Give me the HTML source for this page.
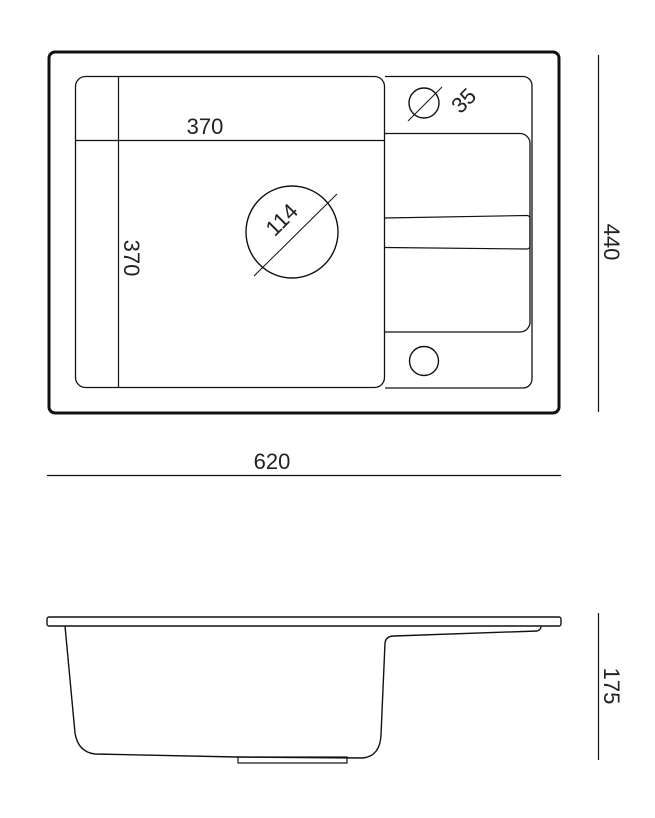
<!DOCTYPE html>
<html><head><style>html,body{margin:0;padding:0;background:#fff}svg{display:block}</style></head>
<body>
<svg width="655" height="818" viewBox="0 0 655 818" xmlns="http://www.w3.org/2000/svg" font-family="Liberation Sans, sans-serif" fill="none" stroke="#111">
<rect x="49" y="52" width="510" height="361" rx="6" stroke-width="3"/>
<rect x="75.5" y="76.5" width="309" height="311" rx="10" stroke-width="1.3"/>
<line x1="118.5" y1="76" x2="118.5" y2="388" stroke-width="1.2"/>
<line x1="75" y1="140.5" x2="385" y2="140.5" stroke-width="1.2"/>
<path d="M385 76.5 H523 a9 9 0 0 1 9 9 V379 a9 9 0 0 1 -9 9 H385" stroke-width="1.3"/>
<path d="M385 133.5 H520 a10 10 0 0 1 10 10 V322 a10 10 0 0 1 -10 10 H385" stroke-width="1.3"/>
<path d="M385 218 L527 215.5 a3 3 0 0 1 3 3 V246 a3 3 0 0 1 -3 3 L385 247.5" stroke-width="1.2"/>
<circle cx="292" cy="232" r="46" stroke-width="1.4"/>
<line x1="254" y1="276" x2="337" y2="194" stroke-width="1"/>
<circle cx="424" cy="103" r="15" stroke-width="1.4"/>
<line x1="408" y1="121" x2="442" y2="87" stroke-width="1"/>
<circle cx="424" cy="361" r="14.5" stroke-width="1.4"/>
<line x1="598.5" y1="55" x2="598.5" y2="412" stroke-width="1.2"/>
<line x1="47" y1="475.5" x2="561" y2="475.5" stroke-width="1.2"/>
<line x1="598.5" y1="613" x2="598.5" y2="760" stroke-width="1.2"/>
<rect x="47" y="617" width="514" height="9" rx="2" stroke-width="1.4"/>
<path d="M65 626 L75 733 Q78 752 95 754 L237 757 L363 758 Q380 756 381 735 L385 643 Q386 636 394 636 L537 631 Q541 630 541 626" stroke-width="1.4"/>
<rect x="238" y="757" width="109" height="6" stroke-width="1.2"/>
<g fill="#222" stroke="none" font-size="22">
<text x="205" y="134" text-anchor="middle">370</text>
<text x="272" y="469" text-anchor="middle">620</text>
<text transform="translate(124,258) rotate(90)" text-anchor="middle">370</text>
<text transform="translate(604,242) rotate(90)" text-anchor="middle">440</text>
<text transform="translate(604,686) rotate(90)" text-anchor="middle">175</text>
<text transform="translate(287,225) rotate(-45)" text-anchor="middle">114</text>
<text transform="translate(469,106) rotate(-45)" text-anchor="middle">35</text>
</g>
</svg>
</body></html>
